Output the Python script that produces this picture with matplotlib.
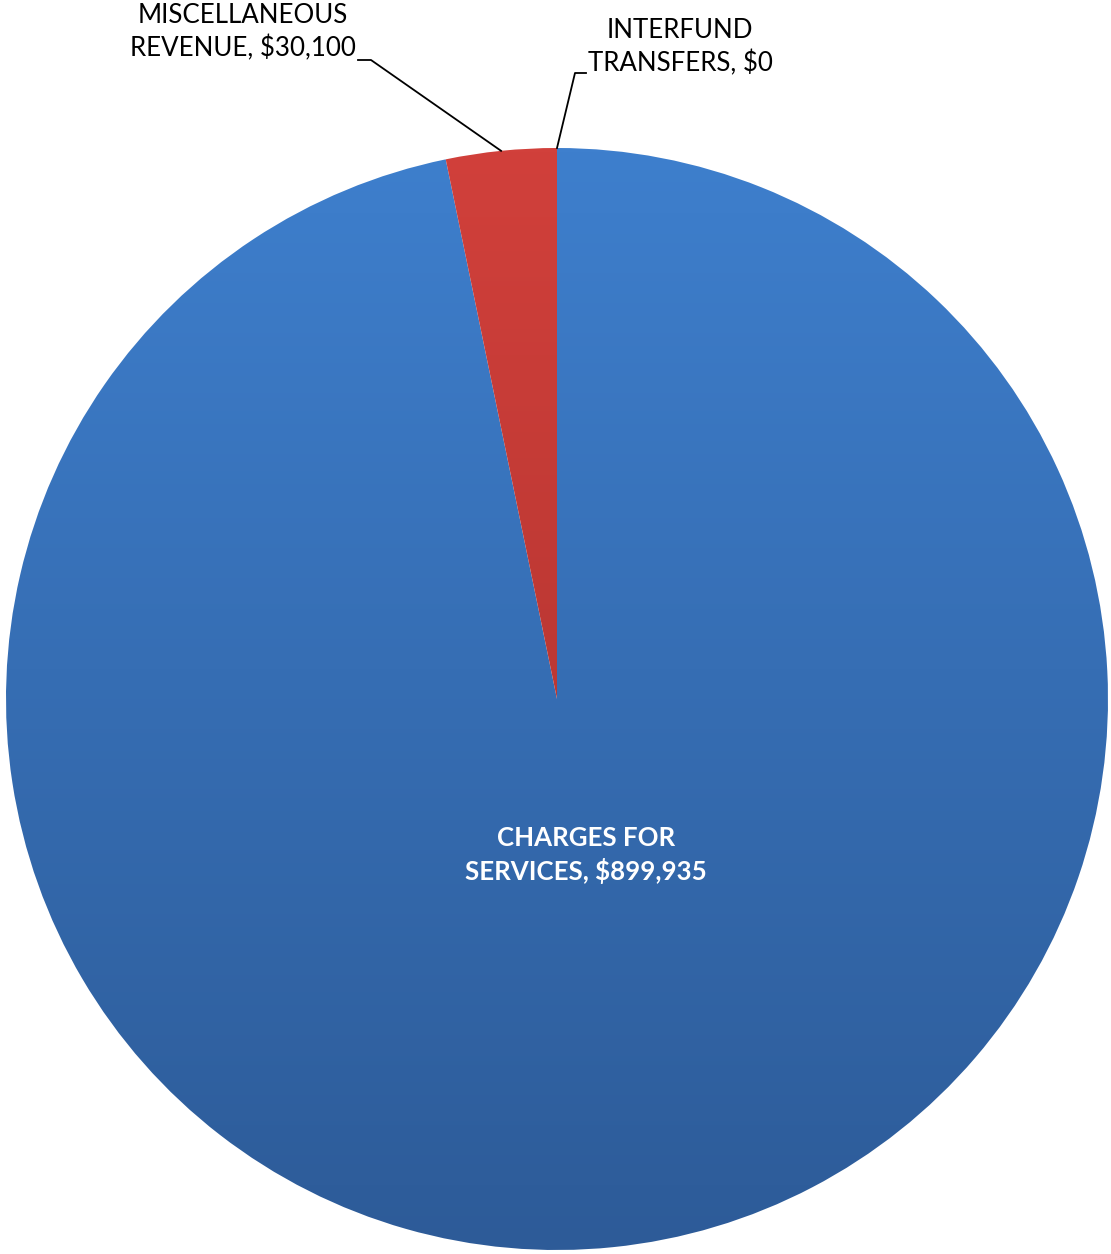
import numpy as np
import matplotlib
matplotlib.use("Agg")
import matplotlib.pyplot as plt
from matplotlib.colors import LinearSegmentedColormap

plt.rcParams['font.family'] = ['Lato', 'DejaVu Sans']

categories = ["CHARGES FOR\nSERVICES", "MISCELLANEOUS\nREVENUE", "INTERFUND\nTRANSFERS"]
values = [899935, 30100, 0]
top_colors = ["#3E7FCD", "#D1403B"]
bottom_colors = ["#2D5B98", "#A62F2B"]

W, H = 1111, 1254
fig = plt.figure(figsize=(W / 100, H / 100), dpi=100)
ax = fig.add_axes([0, 0, 1, 1])

cx, cy, r = 557, H - 699, 551

wedges, _ = ax.pie(values, startangle=90, counterclock=False, radius=r,
                   center=(cx, cy), frame=True,
                   wedgeprops=dict(facecolor="none", edgecolor="none"))
ax.set_xlim(0, W)
ax.set_ylim(0, H)
ax.set_aspect("equal")
ax.axis("off")

# vertical gradient fill for each slice
grad = np.linspace(0, 1, 256).reshape(-1, 1)
for w, c0, c1 in zip(wedges, top_colors + ["#ffffff"], bottom_colors + ["#ffffff"]):
    if w.theta1 == w.theta2:
        continue
    cmap = LinearSegmentedColormap.from_list("g", [c1, c0])
    im = ax.imshow(grad, cmap=cmap, origin="lower", aspect="auto",
                   extent=(cx - r, cx + r, cy - r, cy + r), zorder=1)
    im.set_clip_path(w)

def fmt(v):
    return "${:,.0f}".format(v)

FS = 18.6
LS = 1.36

# main slice label inside
ax.text(586, H - 855, categories[0] + ", " + fmt(values[0]),
        ha="center", va="center", color="white", fontsize=FS, fontweight="bold",
        linespacing=LS, zorder=3)

def edge_point(w):
    ang = np.deg2rad((w.theta1 + w.theta2) / 2)
    return cx + r * np.cos(ang), cy + r * np.sin(ang)

# outside labels with leader lines
x1, y1 = edge_point(wedges[1])
ax.plot([x1, 371, 358], [y1, H - 60, H - 60], color="black", lw=1.3, zorder=3)
ax.text(243, H - 32, categories[1] + ", " + fmt(values[1]), ha="center", va="center",
        color="black", fontsize=FS, linespacing=LS, zorder=3)

x2, y2 = edge_point(wedges[2])
ax.plot([x2, 575, 586], [y2, H - 73, H - 73], color="black", lw=1.3, zorder=3)
ax.text(680, H - 47, categories[2] + ", " + fmt(values[2]), ha="center", va="center",
        color="black", fontsize=FS, linespacing=LS, zorder=3)

fig.savefig("out.png", dpi=100, facecolor="white")
